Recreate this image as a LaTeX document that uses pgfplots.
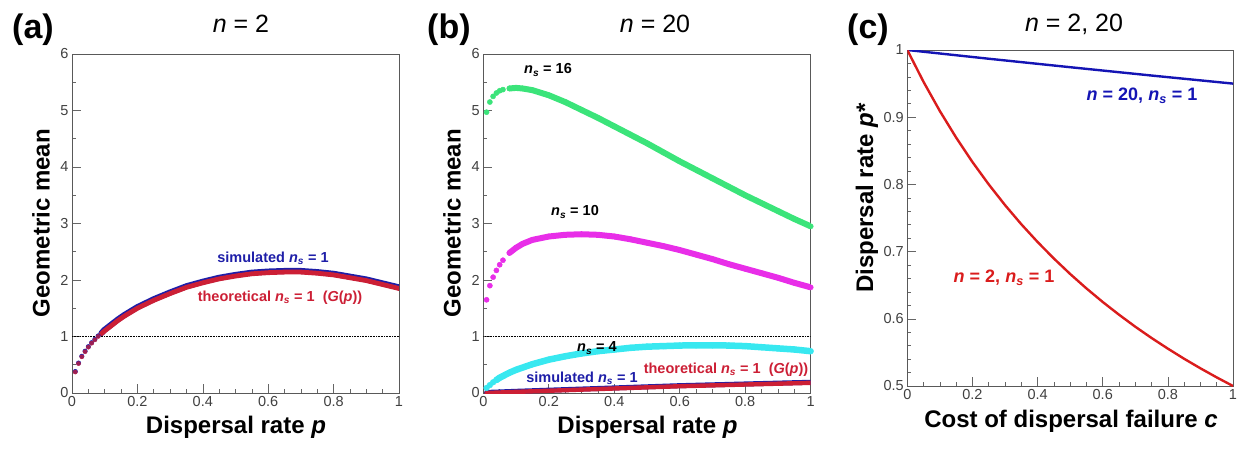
\documentclass[border=0pt]{standalone}
\usepackage{fontspec}
\setmainfont{Liberation Sans}
\usepackage{pgfplots}
\usepackage{pgfplotstable}
\pgfplotsset{compat=1.18}

\definecolor{simblue}{HTML}{1E1EA8}
\definecolor{thred}{HTML}{CC1F35}
\definecolor{gr16}{HTML}{3BE47A}
\definecolor{mg10}{HTML}{E82EE8}
\definecolor{cy4}{HTML}{38E8F0}
\definecolor{lblue}{HTML}{1414B4}
\definecolor{lred}{HTML}{DA1C1C}

\newcommand\ns{\textit{n}\textsubscript{\textit{s}}}

% (a) n = 2
\pgfplotstableread{
p G
0.01 0.37
0.02 0.52
0.03 0.64
0.04 0.73
0.05 0.81
0.06 0.88
0.07 0.94
0.08 1.00
0.09 1.05
0.10 1.10
0.12 1.19
0.14 1.28
0.16 1.36
0.18 1.43
0.20 1.50
0.25 1.64
0.30 1.76
0.35 1.87
0.40 1.95
0.45 2.02
0.50 2.07
0.55 2.11
0.60 2.13
0.65 2.14
0.70 2.14
0.75 2.12
0.80 2.09
0.85 2.04
0.90 1.99
0.95 1.92
1.00 1.85
}\aThe
\pgfplotstableread{
p G
0.01 0.38
0.02 0.53
0.03 0.65
0.04 0.74
0.05 0.82
0.06 0.89
0.07 0.95
0.08 1.01
0.09 1.06
0.10 1.12
0.12 1.21
0.14 1.30
0.16 1.38
0.18 1.45
0.20 1.52
0.25 1.66
0.30 1.78
0.35 1.89
0.40 1.97
0.45 2.04
0.50 2.09
0.55 2.13
0.60 2.15
0.65 2.16
0.70 2.16
0.75 2.14
0.80 2.11
0.85 2.06
0.90 2.01
0.95 1.94
1.00 1.87
}\aSim

% (b) n = 20
\pgfplotstableread{
p G
0.01 4.97
0.02 5.15
0.03 5.25
0.04 5.31
0.05 5.35
0.06 5.37
0.08 5.39
0.10 5.40
0.12 5.39
0.15 5.36
0.20 5.27
0.25 5.15
0.30 5.01
0.35 4.87
0.40 4.72
0.45 4.57
0.50 4.42
0.55 4.26
0.60 4.10
0.65 3.95
0.70 3.80
0.75 3.65
0.80 3.50
0.85 3.36
0.90 3.22
0.95 3.08
1.00 2.95
}\bSixteen
\pgfplotstableread{
p G
0.01 1.65
0.02 1.90
0.03 2.05
0.04 2.17
0.05 2.27
0.06 2.35
0.08 2.48
0.10 2.57
0.12 2.64
0.15 2.71
0.20 2.77
0.25 2.80
0.30 2.81
0.35 2.80
0.40 2.77
0.45 2.72
0.50 2.66
0.55 2.60
0.60 2.53
0.65 2.45
0.70 2.37
0.75 2.28
0.80 2.20
0.85 2.12
0.90 2.04
0.95 1.95
1.00 1.87
}\bTen
\pgfplotstableread{
p G
0.01 0.09
0.02 0.14
0.03 0.19
0.04 0.23
0.05 0.27
0.06 0.30
0.08 0.36
0.10 0.41
0.15 0.51
0.20 0.59
0.25 0.65
0.30 0.70
0.35 0.74
0.40 0.77
0.45 0.80
0.50 0.82
0.55 0.83
0.60 0.84
0.65 0.845
0.70 0.845
0.75 0.84
0.80 0.83
0.85 0.81
0.90 0.79
0.95 0.77
1.00 0.74
}\bFour
\pgfplotstableread{
p G
0.01 0.000
0.10 0.020
0.20 0.040
0.30 0.060
0.40 0.080
0.50 0.100
0.60 0.120
0.70 0.135
0.80 0.150
0.90 0.165
1.00 0.180
}\bThe
\pgfplotstableread{
p G
0.01 0.010
0.10 0.030
0.20 0.050
0.30 0.070
0.40 0.090
0.50 0.110
0.60 0.130
0.70 0.145
0.80 0.160
0.90 0.175
1.00 0.190
}\bSim

% (c) optimal dispersal rate
\pgfplotstableread{
c p
0.00 1.0000
0.05 0.9524
0.10 0.9091
0.15 0.8696
0.20 0.8333
0.25 0.8000
0.30 0.7692
0.35 0.7407
0.40 0.7143
0.45 0.6897
0.50 0.6667
0.55 0.6452
0.60 0.6250
0.65 0.6061
0.70 0.5882
0.75 0.5714
0.80 0.5556
0.85 0.5405
0.90 0.5263
0.95 0.5128
1.00 0.5000
}\cTwo
\pgfplotstableread{
c p
0.00 1.0000
0.25 0.9870
0.50 0.9744
0.75 0.9620
1.00 0.9500
}\cTwenty

\pgfplotsset{
  panel/.style={
    scale only axis, anchor=south west,
    xmin=0, xmax=1,
    axis line style={draw=black!65, line width=0.8pt},
    tick align=inside, tick pos=left,
    xtick={0,0.2,0.4,0.6,0.8,1}, minor x tick num=3,
    major tick length=9pt, minor tick length=4pt,
    tick style={black!60, line width=0.6pt},
    ticklabel style={font=\fontsize{14.5}{14.5}\selectfont, text=black!75},
    /pgf/number format/assume math mode=true,
  },
  band/.style={line width=#1, line cap=round, line join=round},
}

\begin{document}
\begin{tikzpicture}
\path[use as bounding box] (0pt,0pt) rectangle (1246pt,448pt);

% ---------- (a)
\begin{axis}[panel, at={(72pt,55pt)}, width=327pt, height=339pt,
  ymin=0, ymax=6, ytick={0,1,2,3,4,5,6}, minor y tick num=1]
\addplot[black, densely dotted, line width=0.6pt] coordinates {(0,1) (1,1)};
\addplot[simblue, band=6pt, restrict x to domain=0.085:1] table {\aSim};
\addplot[only marks, mark=*, mark size=2.3pt, mark options={simblue}, restrict x to domain=0:0.085] table {\aSim};
\addplot[thred, band=4.8pt, restrict x to domain=0.085:1] table {\aThe};
\addplot[only marks, mark=*, mark size=2.1pt, mark options={thred, opacity=0.7}, restrict x to domain=0:0.085] table {\aThe};
\end{axis}

% ---------- (b)
\begin{axis}[panel, at={(483.3pt,55pt)}, width=327.4pt, height=339pt,
  ymin=0, ymax=6, ytick={0,1,2,3,4,5,6}, minor y tick num=1]
\addplot[black, densely dotted, line width=0.6pt] coordinates {(0,1) (1,1)};
\addplot[gr16, band=6pt, restrict x to domain=0.075:1] table {\bSixteen};
\addplot[only marks, mark=*, mark size=2.6pt, mark options={gr16}] table {\bSixteen};
\addplot[mg10, band=6pt, restrict x to domain=0.075:1] table {\bTen};
\addplot[only marks, mark=*, mark size=2.6pt, mark options={mg10}] table {\bTen};
\addplot[cy4, band=6.5pt, restrict x to domain=0.035:1] table {\bFour};
\addplot[only marks, mark=*, mark size=2.9pt, mark options={cy4}] table {\bFour};
\addplot[simblue, band=5pt] table {\bSim};
\addplot[thred, band=4.4pt] table {\bThe};
\end{axis}

% ---------- (c)
\begin{axis}[panel, at={(907.3pt,62pt)}, width=325.7pt, height=336pt,
  ymin=0.5, ymax=1, ytick={0.5,0.6,0.7,0.8,0.9,1}, minor y tick num=4]
\addplot[lblue, line width=2.4pt] table {\cTwenty};
\addplot[lred, line width=2.4pt] table {\cTwo};
\end{axis}

% panel letters and titles
\begin{scope}[every node/.style={inner sep=0pt}]
\node[anchor=base west] at (12pt,409pt) {\fontsize{34}{34}\selectfont\bfseries (a)};
\node[anchor=base west] at (427pt,409pt) {\fontsize{34}{34}\selectfont\bfseries (b)};
\node[anchor=base west] at (847pt,409pt) {\fontsize{34}{34}\selectfont\bfseries (c)};
\node[anchor=base] at (241pt,415pt) {\fontsize{25}{25}\selectfont\textit{n} = 2};
\node[anchor=base] at (655pt,415pt) {\fontsize{25}{25}\selectfont\textit{n} = 20};
\node[anchor=base] at (1074pt,416pt) {\fontsize{25}{25}\selectfont\textit{n} = 2, 20};

% axis labels
\node[anchor=base] at (236pt,15pt) {\fontsize{24}{24}\selectfont\bfseries Dispersal rate \textit{p}};
\node[anchor=base] at (647.5pt,15pt) {\fontsize{24}{24}\selectfont\bfseries Dispersal rate \textit{p}};
\node[anchor=base] at (1071pt,21pt) {\fontsize{24}{24}\selectfont\bfseries Cost of dispersal failure \textit{c}};
\node[rotate=90] at (41pt,225pt) {\fontsize{24}{24}\selectfont\bfseries Geometric mean};
\node[rotate=90] at (452pt,225pt) {\fontsize{24}{24}\selectfont\bfseries Geometric mean};
\node[rotate=90] at (867pt,250pt) {\fontsize{24}{24}\selectfont\bfseries Dispersal rate \textit{p}*};

% curve labels
\node[text=simblue] at (273pt,190pt) {\fontsize{14.5}{14.5}\selectfont\bfseries simulated \ns{} = 1};
\node[text=thred] at (280pt,150pt) {\fontsize{14.5}{14.5}\selectfont\bfseries theoretical \ns{} = 1~~(\textit{G}(\textit{p}))};
\node at (548pt,378pt) {\fontsize{14.5}{14.5}\selectfont\bfseries \ns{} = 16};
\node at (575pt,236pt) {\fontsize{14.5}{14.5}\selectfont\bfseries \ns{} = 10};
\node at (597pt,100pt) {\fontsize{14.5}{14.5}\selectfont\bfseries \ns{} = 4};
\node[text=simblue] at (582pt,70pt) {\fontsize{14.5}{14.5}\selectfont\bfseries simulated \ns{} = 1};
\node[text=thred] at (726pt,78pt) {\fontsize{14.5}{14.5}\selectfont\bfseries theoretical \ns{} = 1~~(\textit{G}(\textit{p}))};
\node[text=lblue] at (1142pt,352pt) {\fontsize{18}{18}\selectfont\bfseries\textit{n} = 20, \ns{} = 1};
\node[text=lred] at (1004pt,170pt) {\fontsize{18}{18}\selectfont\bfseries\textit{n} = 2, \ns{} = 1};
\end{scope}
\end{tikzpicture}
\end{document}
